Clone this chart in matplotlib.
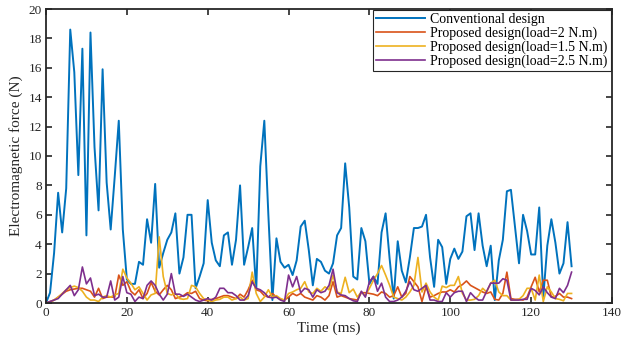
import matplotlib
matplotlib.use("Agg")
import matplotlib.pyplot as plt
import numpy as np

time_ms = list(range(0, 131))

conventional = [
    0, 0.7, 3.4, 7.5, 4.8, 7.8, 18.6, 15.7, 8.7, 17.3,
    4.6, 18.4, 10.6, 6.3, 15.9, 8.2, 5.0, 8.6, 12.4, 5.0,
    1.6, 1.3, 1.3, 2.8, 2.6, 5.7, 4.1, 8.1, 2.4, 3.4,
    4.3, 4.8, 6.1, 2.0, 3.1, 6.0, 6.0, 1.0, 1.8, 2.7,
    7.0, 4.1, 2.9, 2.5, 4.6, 4.8, 2.6, 4.3, 8.0, 2.6,
    3.8, 5.1, 0.9, 9.3, 12.4, 6.0, 0.2, 4.4, 2.8, 2.4,
    2.6, 1.9, 2.9, 5.2, 5.6, 3.6, 1.2, 3.0, 2.8, 2.2,
    2.0, 2.7, 4.6, 5.1, 9.5, 6.5, 1.8, 1.6, 5.1, 4.2,
    1.3, 1.8, 1.3, 4.8, 6.1, 3.0, 0.3, 4.2, 2.2, 1.4,
    3.1, 5.1, 5.1, 5.2, 6.0, 3.1, 1.1, 4.3, 3.8, 1.3,
    3.0, 3.7, 3.0, 3.5, 5.9, 6.1, 3.6, 6.1, 3.9, 2.5,
    3.9, 0.2, 2.9, 4.3, 7.6, 7.7, 5.2, 2.7, 6.0, 4.9,
    3.3, 3.3, 6.5, 0.4, 3.9, 5.7, 4.1, 2.0, 2.7, 5.5,
    2.5,
]

load_2 = [
    0, 0.1, 0.2, 0.4, 0.6, 0.8, 0.9, 0.95, 1.0, 1.0,
    0.9, 0.8, 0.4, 1.0, 0.3, 0.4, 0.4, 0.4, 1.9, 1.2,
    1.45, 0.8, 0.55, 0.9, 0.3, 0.65, 1.4, 0.8, 0.55, 0.9,
    1.2, 0.9, 0.3, 0.4, 0.5, 0.7, 0.65, 0.8, 0.3, 0.2,
    0.15, 0.25, 0.3, 0.4, 0.5, 0.5, 0.4, 0.3, 0.6, 0.4,
    0.9, 1.55, 0.9, 0.8, 0.5, 0.4, 0.65, 0.4, 0.25, 0.2,
    0.4, 0.65, 0.5, 0.65, 0.4, 0.3, 0.2, 0.5, 0.4, 0.2,
    0.5, 1.45, 0.4, 0.5, 0.4, 0.3, 0.25, 0.2, 0.7, 0.7,
    0.65, 0.6, 0.5, 0.75, 0.65, 0.4, 0.5, 1.1, 0.4, 0.65,
    1.8, 1.45, 1.1, 0.1, 1.1, 0.4, 0.5, 0.65, 0.75, 0.75,
    0.9, 0.75, 1.1, 1.25, 1.5, 1.2, 1.05, 0.9, 0.75, 0.65,
    0.75, 0.25, 0.2, 0.65, 2.1, 0.3, 0.25, 0.25, 0.2, 0.4,
    1.1, 1.75, 0.75, 1.55, 1.55, 0.4, 0.45, 0.65, 0.4, 0.4,
    0.3,
]

load_1_5 = [
    0, 0.05, 0.2, 0.4, 0.65, 0.9, 1.05, 1.15, 1.05, 0.8,
    0.4, 0.2, 0.2, 0.1, 0.4, 0.5, 0.4, 0.55, 0.65, 2.3,
    1.7, 1.35, 0.9, 1.1, 0.65, 0.2, 0.55, 0.65, 4.5, 1.8,
    0.65, 0.55, 0.65, 0.3, 0.25, 0.3, 1.2, 1.1, 0.65, 0.3,
    0.2, 0.1, 0.2, 0.25, 0.4, 0.4, 0.2, 0.3, 0.4, 0.2,
    0.3, 2.1, 0.65, 0.1, 0.4, 0.9, 0.4, 0.5, 0.3, 0.2,
    0.65, 0.75, 0.9, 1.0, 1.45, 0.75, 0.65, 1.0, 0.8, 1.1,
    0.9, 1.9, 0.75, 0.65, 1.75, 0.7, 0.95, 0.4, 0.75, 0.5,
    1.0, 1.55, 2.0, 2.55, 1.9, 1.2, 0.4, 0.3, 0.2, 0.4,
    0.75, 1.2, 3.1, 0.75, 1.35, 0.75, 0.4, 0.2, 1.15, 1.05,
    1.2, 1.2, 1.8, 0.65, 0.2, 0.2, 0.25, 0.5, 1.0, 0.75,
    1.35, 1.55, 0.75, 0.5, 0.5, 0.2, 0.2, 0.25, 0.5, 1.0,
    1.0, 0.2, 1.9, 0.1, 1.1, 0.75, 0.3, 0.25, 0.15, 0.65,
    0.65,
]

load_2_5 = [
    0, 0.1, 0.2, 0.3, 0.6, 0.9, 1.2, 0.5, 0.9, 2.45,
    1.3, 1.7, 0.5, 0.6, 0.4, 0.4, 1.5, 0.2, 0.4, 1.8,
    0.7, 0.6, 0.1, 0.4, 0.3, 1.2, 1.5, 1.2, 0.6, 0.2,
    0.6, 2.0, 0.6, 0.6, 0.45, 0.6, 0.4, 0.2, 0.1, 0.2,
    0.3, 0.2, 0.4, 1.0, 1.0, 0.7, 0.7, 0.5, 0.2, 0.2,
    0.5, 1.45, 1.0, 0.9, 0.7, 0.4, 0.35, 0.4, 0.2, 0.1,
    1.9, 1.1, 1.8, 0.7, 1.0, 0.9, 0.4, 0.9, 0.7, 0.8,
    1.2, 2.3, 0.7, 0.55, 0.5, 0.3, 0.15, 0.1, 0.8, 0.4,
    1.45, 1.8, 0.8, 1.35, 0.4, 0.1, 0.1, 0.2, 0.4, 0.8,
    1.45, 0.9, 0.8, 1.0, 1.2, 0.2, 0.2, 0.1, 0.1, 0.7,
    0.4, 0.7, 0.8, 0.8, 0.1, 0.7, 0.4, 0.2, 0.2, 0.8,
    1.35, 1.35, 1.35, 1.65, 1.55, 0.2, 0.2, 0.2, 0.25, 0.25,
    1.0, 0.85, 0.55, 1.1, 0.7, 0.4, 0.3, 1.0, 0.7, 1.2,
    2.1,
]

labels = [
    "Conventional design",
    "Proposed design(load=2 N.m)",
    "Proposed design(load=1.5 N.m)",
    "Proposed design(load=2.5 N.m)",
]
colors = ["#0072BD", "#D95319", "#EDB120", "#7E2F8E"]
x_ticks = [0, 20, 40, 60, 80, 100, 120, 140]
y_ticks = [0, 2, 4, 6, 8, 10, 12, 14, 16, 18, 20]

plt.rcParams['font.family'] = ['Liberation Serif', 'DejaVu Serif']
plt.rcParams['mathtext.fontset'] = 'stix'

fig = plt.figure(figsize=(6.22, 3.41), dpi=100)
ax = fig.add_axes([46/622, 38/341, 566/622, 294/341])

series = [conventional, load_2, load_1_5, load_2_5]
widths = [1.4, 1.2, 1.2, 1.2]
for s, lab, c, w in zip(series, labels, colors, widths):
    ax.plot(time_ms, s, color=c, lw=w, label=lab)

ax.set_xlim(0, 140)
ax.set_ylim(0, 20)
ax.set_xticks(x_ticks)
ax.set_yticks(y_ticks)
ax.tick_params(direction='in', top=True, right=True, length=4, width=1.2,
               labelsize=9.5, colors='#262626', pad=3)
for sp in ax.spines.values():
    sp.set_linewidth(1.3)
    sp.set_color('#262626')
ax.set_xlabel("Time (ms)", fontsize=11, labelpad=2, color='#262626')
ax.set_ylabel("Electromagnetic force (N)", fontsize=11, labelpad=4, color='#262626')

leg = ax.legend(loc='upper right', fontsize=10, frameon=True, fancybox=False,
                borderaxespad=0.05, handlelength=3.5, handletextpad=0.4,
                labelspacing=0.03, borderpad=0.25, framealpha=1.0)
leg.get_frame().set_edgecolor('#262626')
leg.get_frame().set_linewidth(0.8)

fig.savefig("out.png", dpi=100)
